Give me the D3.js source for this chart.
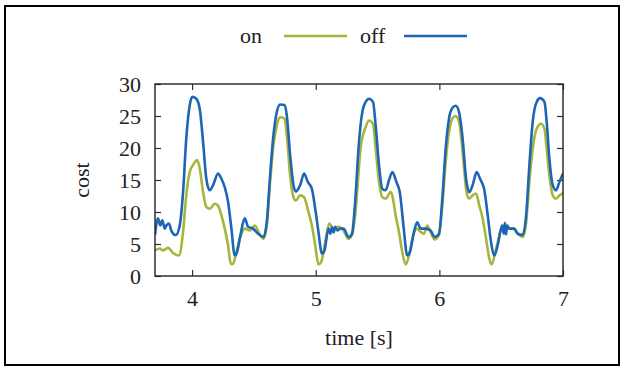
<!DOCTYPE html>
<html>
<head>
<meta charset="utf-8">
<script src="https://cdn.jsdelivr.net/npm/d3@7"></script>
<style>
  text { font-family: 'Liberation Serif' !important; font-size: 22px !important; }
</style>
</head>
<body style="margin:0">
<script>
// series "off" (blue)
var offT = [3.70, 3.724, 3.743, 3.759, 3.779, 3.795, 3.813, 3.832, 3.868, 3.900, 3.927, 3.953, 3.981, 4.002, 4.034, 4.062, 4.089, 4.115, 4.143, 4.170, 4.210, 4.237, 4.264, 4.291, 4.318, 4.345, 4.364, 4.391, 4.426, 4.453, 4.494, 4.534, 4.577, 4.604, 4.631, 4.658, 4.685, 4.712, 4.747, 4.766, 4.793, 4.820, 4.839, 4.874, 4.906, 4.936, 4.969, 4.996, 5.022, 5.050, 5.071, 5.103, 5.118, 5.131, 5.145, 5.157, 5.175, 5.198, 5.225, 5.265, 5.293, 5.319, 5.346, 5.365, 5.381, 5.404, 5.431, 5.463, 5.485, 5.512, 5.539, 5.566, 5.593, 5.620, 5.652, 5.680, 5.701, 5.714, 5.740, 5.762, 5.795, 5.821, 5.848, 5.889, 5.929, 5.962, 5.997, 6.024, 6.051, 6.078, 6.105, 6.132, 6.159, 6.188, 6.216, 6.243, 6.269, 6.302, 6.329, 6.364, 6.391, 6.418, 6.445, 6.472, 6.507, 6.522, 6.530, 6.540, 6.548, 6.566, 6.607, 6.634, 6.674, 6.702, 6.728, 6.755, 6.787, 6.815, 6.850, 6.868, 6.890, 6.917, 6.944, 6.971, 7.0];
var offV = [6.4, 9.0, 7.9, 8.7, 7.4, 8.0, 8.2, 7.1, 6.4, 7.9, 13.1, 21.5, 26.7, 28.0, 27.7, 26.1, 20.9, 15.2, 13.4, 14.2, 16.0, 15.2, 13.9, 11.6, 7.4, 3.2, 3.75, 6.4, 9.0, 7.7, 7.4, 6.6, 6.1, 8.4, 15.7, 22.0, 25.6, 26.8, 26.7, 25.1, 18.9, 14.2, 13.2, 14.2, 16.0, 14.7, 13.6, 10.5, 6.9, 3.5, 4.0, 7.4, 6.6, 7.6, 6.8, 7.7, 7.1, 7.4, 7.4, 6.1, 6.6, 11.6, 19.9, 24.0, 26.0, 27.2, 27.7, 27.2, 23.5, 17.3, 13.6, 13.4, 15.0, 16.25, 14.7, 13.1, 9.5, 7.0, 3.2, 3.75, 6.9, 8.4, 7.4, 7.4, 7.1, 6.1, 6.6, 12.1, 19.9, 24.6, 26.25, 26.6, 25.6, 21.5, 15.2, 13.1, 14.2, 16.25, 15.2, 13.4, 9.5, 5.3, 3.2, 4.8, 7.9, 6.6, 8.3, 6.5, 7.9, 7.4, 7.4, 6.6, 6.4, 9.5, 17.3, 24.1, 27.2, 27.8, 27.2, 24.1, 18.3, 14.2, 13.4, 14.7, 16.0];

// series "on" (green)
var onT = [3.70, 3.738, 3.765, 3.805, 3.846, 3.894, 3.927, 3.953, 3.981, 4.013, 4.040, 4.062, 4.089, 4.115, 4.143, 4.183, 4.210, 4.237, 4.264, 4.291, 4.313, 4.332, 4.358, 4.391, 4.426, 4.467, 4.507, 4.550, 4.577, 4.604, 4.631, 4.658, 4.685, 4.712, 4.747, 4.766, 4.793, 4.820, 4.839, 4.874, 4.906, 4.941, 4.969, 4.996, 5.022, 5.044, 5.077, 5.109, 5.144, 5.184, 5.225, 5.265, 5.293, 5.319, 5.346, 5.362, 5.404, 5.431, 5.463, 5.485, 5.512, 5.539, 5.566, 5.606, 5.619, 5.646, 5.673, 5.700, 5.727, 5.754, 5.781, 5.816, 5.848, 5.876, 5.902, 5.935, 5.962, 5.997, 6.024, 6.051, 6.078, 6.105, 6.132, 6.159, 6.188, 6.216, 6.237, 6.269, 6.297, 6.323, 6.350, 6.378, 6.404, 6.423, 6.453, 6.486, 6.518, 6.553, 6.593, 6.634, 6.674, 6.702, 6.728, 6.755, 6.787, 6.823, 6.850, 6.868, 6.890, 6.917, 6.944, 6.971, 7.0];
var onV = [4.0, 4.3, 4.0, 4.4, 3.6, 3.2, 6.9, 12.6, 16.25, 17.5, 18.1, 16.8, 13.1, 10.8, 10.5, 11.3, 11.0, 9.5, 7.4, 4.8, 1.9, 1.9, 3.75, 6.1, 7.4, 7.1, 7.9, 6.4, 5.8, 7.9, 14.7, 20.4, 23.5, 24.8, 24.6, 22.0, 15.7, 12.3, 11.8, 12.6, 12.3, 10.0, 7.9, 4.8, 1.8, 2.2, 5.3, 8.2, 7.4, 7.7, 7.1, 5.8, 6.4, 9.5, 16.0, 19.9, 23.3, 24.3, 23.8, 19.9, 14.7, 12.3, 12.1, 13.1, 12.6, 9.5, 6.9, 3.75, 1.8, 3.2, 5.8, 7.4, 6.9, 6.6, 7.9, 6.6, 5.7, 6.4, 11.0, 17.8, 22.5, 24.6, 25.0, 24.1, 19.4, 13.6, 12.1, 12.6, 12.9, 11.0, 9.0, 5.8, 2.7, 1.8, 3.75, 6.4, 7.9, 7.4, 7.4, 6.6, 6.1, 8.4, 14.7, 19.9, 23.0, 23.8, 23.0, 19.9, 15.7, 12.6, 12.1, 12.6, 12.9];

var xTicks = [4, 5, 6, 7];
var yTicks = [0, 5, 10, 15, 20, 25, 30];
var series = [
    {name: "on", t: onT, v: onV, color: "#a7b63a"},
    {name: "off", t: offT, v: offV, color: "#1f65b5"}
];

var W = 625, H = 367;
var svg = d3.select("body").append("svg")
        .attr("width", W)
        .attr("height", H);

// outer frame
svg.append("rect")
        .attr("x", 5)
        .attr("y", 6)
        .attr("width", 614)
        .attr("height", 359)
        .attr("fill", "none")
        .attr("stroke", "#000")
        .attr("stroke-width", 2);

var margin = {top: 84, left: 155, right: 62, bottom: 91};
var width = W - margin.left - margin.right;
var height = H - margin.top - margin.bottom;

var x = d3.scaleLinear().domain([3.7, 7]).range([0, width]);
var y = d3.scaleLinear().domain([0, 30]).range([height, 0]);

var g = svg.append("g")
        .attr("transform", "translate(" + margin.left + "," + margin.top + ")");

// axes, ticks inward and mirrored
g.append("g")
        .attr("class", "axis")
        .attr("transform", "translate(0," + height + ")")
        .call(d3.axisBottom(x).tickValues(xTicks).tickSizeInner(-6).tickSizeOuter(0).tickPadding(14).tickFormat(d3.format("d")))
        .call(function (a) { a.select(".domain").remove(); });

g.append("g")
        .attr("class", "axis")
        .call(d3.axisTop(x).tickValues(xTicks).tickSizeInner(-6).tickSizeOuter(0).tickFormat(""))
        .call(function (a) { a.select(".domain").remove(); });

g.append("g")
        .attr("class", "axis")
        .call(d3.axisLeft(y).tickValues(yTicks).tickSizeInner(-6).tickSizeOuter(0).tickPadding(14))
        .call(function (a) { a.select(".domain").remove(); });

g.append("g")
        .attr("class", "axis")
        .attr("transform", "translate(" + width + ",0)")
        .call(d3.axisRight(y).tickValues(yTicks).tickSizeInner(-6).tickSizeOuter(0).tickFormat(""))
        .call(function (a) { a.select(".domain").remove(); });

g.selectAll(".axis").attr("font-family", "Liberation Serif").attr("font-size", 22);
g.selectAll(".axis line").attr("stroke", "#333").attr("stroke-width", 1.2);

// clip to plot area
svg.append("clipPath").attr("id", "clip")
        .append("rect").attr("width", width).attr("height", height);

var line = d3.line()
        .x(function (d) { return x(d[0]); })
        .y(function (d) { return y(d[1]); })
        .curve(d3.curveMonotoneX);

g.append("g").attr("clip-path", "url(#clip)")
        .selectAll(".serie")
        .data(series)
        .enter().append("path")
        .attr("class", "serie")
        .attr("fill", "none")
        .attr("stroke", function (d) { return d.color; })
        .attr("stroke-width", 2.6)
        .attr("stroke-linejoin", "round")
        .attr("d", function (d) { return line(d3.zip(d.t, d.v)); });

// plot frame
g.append("rect")
        .attr("width", width)
        .attr("height", height)
        .attr("fill", "none")
        .attr("stroke", "#222")
        .attr("stroke-width", 1.4);

// axis titles
svg.append("text")
        .attr("x", margin.left + width / 2)
        .attr("y", 345)
        .attr("text-anchor", "middle")
        .style("font-family", "Liberation Serif")
        .text("time [s]");

svg.append("text")
        .attr("transform", "translate(89," + (margin.top + height / 2) + ") rotate(-90)")
        .attr("text-anchor", "middle")
        .style("font-family", "Liberation Serif")
        .text("cost");

// legend
var legend = svg.append("g");
var lx = [240, 360];
series.forEach(function (s, i) {
    legend.append("text")
            .attr("x", lx[i])
            .attr("y", 43)
            .style("font-family", "Liberation Serif")
            .text(s.name);
    legend.append("line")
            .attr("x1", lx[i] + 44)
            .attr("x2", lx[i] + 107)
            .attr("y1", 36)
            .attr("y2", 36)
            .attr("stroke", s.color)
            .attr("stroke-width", 2.6);
});

svg.selectAll("text").style("fill", "#222");
</script>
</body>
</html>
